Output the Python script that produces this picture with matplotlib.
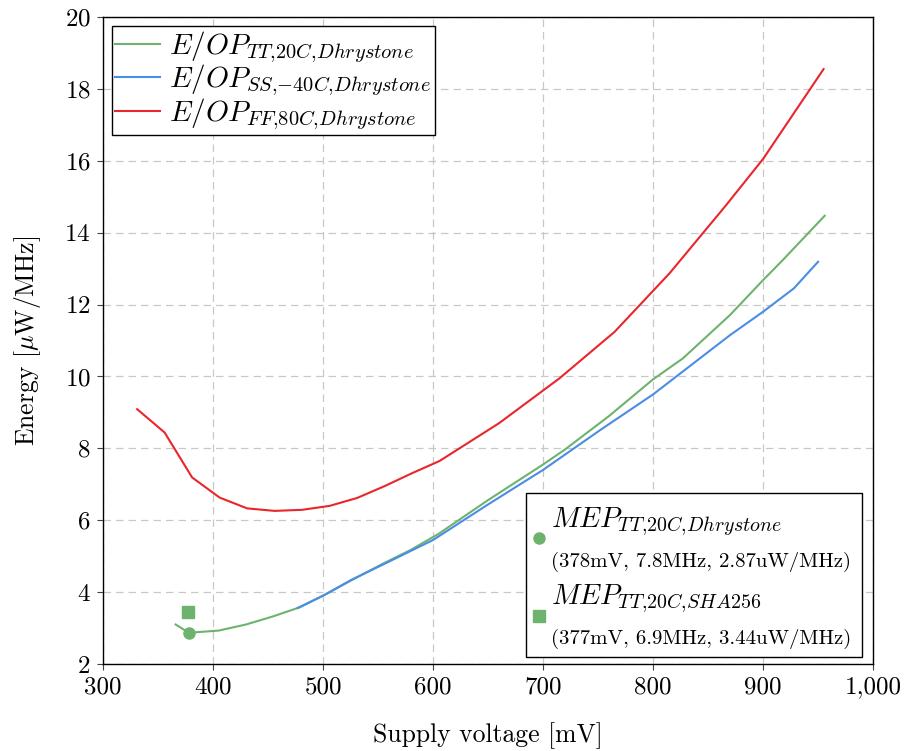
import numpy as np
import matplotlib
matplotlib.use('Agg')
import matplotlib.pyplot as plt
from matplotlib.ticker import FuncFormatter
from matplotlib.offsetbox import AnchoredOffsetbox, VPacker, HPacker, TextArea, DrawingArea
from matplotlib.lines import Line2D

plt.rcParams['font.family'] = ['cmr10', 'DejaVu Serif']
plt.rcParams['mathtext.fontset'] = 'cm'
plt.rcParams['axes.formatter.use_mathtext'] = True

# E/OP curves (mV, uW/MHz)
tt_v = [366, 378, 405, 430, 455, 479, 503, 530, 555, 580, 605, 650, 700, 720, 760, 800, 827, 870, 900, 918, 956]
tt_e = [3.10, 2.87, 2.93, 3.10, 3.33, 3.58, 3.95, 4.40, 4.80, 5.18, 5.62, 6.56, 7.55, 7.97, 8.90, 9.92, 10.50, 11.71, 12.68, 13.24, 14.47]

ss_v = [477, 500, 525, 558, 600, 649, 700, 752, 800, 853, 870, 900, 928, 950]
ss_e = [3.56, 3.90, 4.33, 4.82, 5.45, 6.42, 7.40, 8.51, 9.50, 10.75, 11.15, 11.80, 12.45, 13.19]

ff_v = [331, 356, 381, 406, 431, 456, 481, 506, 531, 556, 581, 606, 660, 715, 765, 815, 866, 900, 955]
ff_e = [9.09, 8.44, 7.19, 6.63, 6.33, 6.26, 6.29, 6.40, 6.62, 6.95, 7.31, 7.65, 8.70, 9.95, 11.24, 12.87, 14.75, 16.05, 18.55]

# minimum energy points
mep_dhry = (378, 2.87)
mep_sha = (377, 3.44)
mep_dhry_info = '(378mV, 7.8MHz, 2.87uW/MHz)'
mep_sha_info = '(377mV, 6.9MHz, 3.44uW/MHz)'

green = '#6db36d'
blue = '#4a8de6'
red = '#e8262b'

fig = plt.figure(figsize=(9.07, 7.51), dpi=100)
ax = fig.add_axes([0.1136, 0.1158, 0.849, 0.8616])

ax.plot(tt_v, tt_e, color=green, lw=1.5, label=r'$E/OP_{TT{,}20C{,}Dhrystone}$')
ax.plot(ss_v, ss_e, color=blue, lw=1.5, label=r'$E/OP_{SS{,}{-}40C{,}Dhrystone}$')
ax.plot(ff_v, ff_e, color=red, lw=1.5, label=r'$E/OP_{FF{,}80C{,}Dhrystone}$')
ax.plot([mep_dhry[0]], [mep_dhry[1]], 'o', color=green, ms=8)
ax.plot([mep_sha[0]], [mep_sha[1]], 's', color=green, ms=8)

ax.set_xlim(300, 1000)
ax.set_ylim(2, 20)
ax.set_xticks(np.arange(300, 1001, 100))
ax.set_yticks(np.arange(2, 21, 2))
ax.xaxis.set_major_formatter(FuncFormatter(lambda v, p: '{:,}'.format(int(v))))
ax.tick_params(direction='out', length=4, labelsize=18, color='#444444', pad=5)
ax.grid(True, color='#c8c8c8', lw=0.9, linestyle=(0, (6, 4)))
ax.set_axisbelow(True)
for s in ax.spines.values():
    s.set_linewidth(1.0)

ax.set_xlabel('Supply voltage [mV]', fontsize=18.5, labelpad=17)
ax.set_ylabel(r'Energy [$\mu$W/MHz]', fontsize=18.5, labelpad=15)

leg = ax.legend(loc='upper left', fontsize=21, fancybox=False, edgecolor='black',
                framealpha=1, handlelength=1.55, labelspacing=-0.08, borderaxespad=0.3,
                borderpad=0.12, handletextpad=0.3)
leg.get_frame().set_linewidth(1.0)


def mep_row(marker, title, info):
    da = DrawingArea(7.8, 10, 0, 0)
    da.add_artist(Line2D([3.9], [5], marker=marker, color=green, ms=8, ls='none'))
    txt = VPacker(children=[TextArea(title, textprops=dict(fontsize=20.5)),
                            TextArea(info, textprops=dict(fontsize=15))],
                  align='left', pad=0, sep=10)
    return HPacker(children=[da, txt], align='center', pad=0, sep=4.7)


rows = VPacker(children=[mep_row('o', r'$MEP_{TT{,}20C{,}Dhrystone}$', mep_dhry_info),
                         mep_row('s', r'$MEP_{TT{,}20C{,}SHA256}$', mep_sha_info)],
               align='left', pad=0, sep=8)
box = VPacker(children=[DrawingArea(1, 3, 0, 0),
                        HPacker(children=[rows, DrawingArea(2.4, 1, 0, 0)], align='top', pad=0, sep=0)],
              align='left', pad=0, sep=0)
anch = AnchoredOffsetbox(loc='lower right', child=box, pad=0.55, borderpad=0,
                         bbox_to_anchor=(0.9857, 0.0108), bbox_transform=ax.transAxes,
                         frameon=True)
anch.patch.set_edgecolor('black')
anch.patch.set_linewidth(1.0)
ax.add_artist(anch)

fig.savefig('out.png', dpi=100)
